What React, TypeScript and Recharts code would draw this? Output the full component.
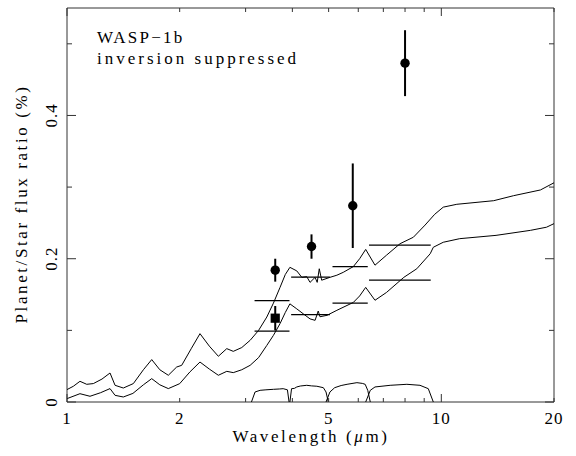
import React from 'react';
import { ComposedChart, Line, Scatter, XAxis, YAxis, ErrorBar, Customized, ReferenceArea } from 'recharts';

// Model spectra [wavelength (um), planet/star flux ratio (%)]
const upperModel: number[][] = [
  [1.0, 0.0173], [1.04, 0.022], [1.083, 0.0289], [1.129, 0.0247], [1.176, 0.0257], [1.24, 0.032],
  [1.303, 0.0405], [1.344, 0.0233], [1.414, 0.0195], [1.504, 0.0257], [1.6, 0.045], [1.684, 0.0592],
  [1.77, 0.045], [1.865, 0.0373], [1.963, 0.0488], [2.025, 0.0512], [2.15, 0.075], [2.266, 0.0954],
  [2.4, 0.078], [2.537, 0.0638], [2.672, 0.0745], [2.781, 0.0707], [2.93, 0.076], [3.085, 0.0861],
  [3.25, 0.1], [3.418, 0.1186], [3.56, 0.138], [3.708, 0.16], [3.83, 0.178], [3.94, 0.188],
  [4.11, 0.183], [4.24, 0.174], [4.37, 0.175], [4.46, 0.167], [4.6, 0.174], [4.66, 0.167],
  [4.72, 0.186], [4.79, 0.17], [5.04, 0.174], [5.26, 0.177], [5.47, 0.181], [5.82, 0.189],
  [6.05, 0.2], [6.28, 0.213], [6.65, 0.191], [7.14, 0.205], [7.76, 0.221], [8.42, 0.23],
  [9.05, 0.247], [9.6, 0.262], [10.12, 0.272], [11.0, 0.276], [13.8, 0.281], [15.6, 0.288],
  [18.4, 0.296], [20, 0.306],
];
const lowerModel: number[][] = [
  [1.0, 0.0047], [1.083, 0.0116], [1.152, 0.008], [1.23, 0.013], [1.303, 0.0187], [1.344, 0.0093],
  [1.414, 0.007], [1.5, 0.012], [1.6, 0.024], [1.684, 0.0326], [1.77, 0.024], [1.865, 0.0187],
  [2.0, 0.0256], [2.13, 0.042], [2.266, 0.0558], [2.4, 0.046], [2.537, 0.0373], [2.672, 0.0428],
  [2.781, 0.041], [2.93, 0.045], [3.085, 0.0512], [3.25, 0.062], [3.418, 0.079], [3.56, 0.093],
  [3.708, 0.1094], [3.83, 0.125], [3.94, 0.137], [4.11, 0.13], [4.28, 0.123], [4.46, 0.116],
  [4.6, 0.114], [4.69, 0.127], [4.74, 0.119], [4.95, 0.121], [5.26, 0.128], [5.82, 0.139],
  [6.05, 0.148], [6.28, 0.16], [6.65, 0.142], [7.14, 0.153], [7.94, 0.174], [8.6, 0.186],
  [9.34, 0.207], [9.52, 0.216], [10.12, 0.223], [11.2, 0.228], [14.0, 0.2326], [17.3, 0.2396],
  [19.1, 0.244], [20, 0.249],
];

// IRAC filter response curves (scaled)
const filter36: number[][] = [[3.11, 0], [3.18, 0.014], [3.28, 0.0163], [3.4, 0.017], [3.56, 0.0177], [3.7, 0.0182], [3.78, 0.0186], [3.88, 0.017], [3.92, 0]];
const filter45: number[][] = [[3.94, 0], [3.98, 0.0186], [4.05, 0.019], [4.11, 0.021], [4.2, 0.0223], [4.37, 0.0233], [4.5, 0.0225], [4.65, 0.022], [4.84, 0.02], [4.92, 0.014], [4.99, 0]];
const filter58: number[][] = [[4.92, 0], [5.04, 0.014], [5.19, 0.02], [5.4, 0.023], [5.6, 0.0247], [5.95, 0.027], [6.15, 0.026], [6.26, 0.0247], [6.36, 0.0163], [6.46, 0]];
const filter80: number[][] = [[6.28, 0], [6.46, 0.0163], [6.65, 0.021], [7.3, 0.0233], [8.09, 0.0247], [8.77, 0.0233], [9.23, 0.0186], [9.52, 0]];

// Band-averaged model fluxes
const bandEdges: number[][] = [[3.17, 3.93], [3.97, 5.04], [5.12, 6.36], [6.41, 9.37]];
const upperBandFlux = [0.1415, 0.1744, 0.189, 0.219];
const lowerBandFlux = [0.099, 0.122, 0.138, 0.17];

// Observed eclipse depths
const circleWave = [3.6, 4.5, 5.8, 8.0];
const circleFlux = [0.184, 0.217, 0.274, 0.473];
const circleErr = [0.016, 0.017, 0.059, 0.046];
const squareWave = [3.6];
const squareFlux = [0.117];
const squareErr = [0.017];

// Axis ticks
const xTicks = [1, 2, 3, 4, 5, 6, 7, 8, 9, 10, 20];
const xTickLabels = [1, 2, 5, 10, 20];
const yTicks = [0, 0.1, 0.2, 0.3, 0.4, 0.5];
const yTickLabels = [0, 0.2, 0.4];

const toXY = (arr: number[][]) => arr.map(([x, y]) => ({ x, y }));
const FONT = 'Liberation Serif';
const FRAME = '#333';

const isMajorX = (v: number) => v === 1 || v === 10;
const isMajorY = (v: number) => yTickLabels.some((t) => Math.abs(t - v) < 1e-9);

const BottomTickMark = (p: any) => {
  const len = isMajorX(p.payload.value) ? 8 : 4;
  return <path d={`M${p.x},${p.y}L${p.x},${Number(p.y) - len}`} stroke={FRAME} strokeWidth={1} />;
};
const TopTickMark = (p: any) => {
  const len = isMajorX(p.payload.value) ? 8 : 4;
  return <path d={`M${p.x},${p.y}L${p.x},${Number(p.y) + len}`} stroke={FRAME} strokeWidth={1} />;
};
const LeftTickMark = (p: any) => {
  const len = isMajorY(p.payload.value) ? 9 : 5;
  return <path d={`M${p.x},${p.y}L${Number(p.x) + len},${p.y}`} stroke={FRAME} strokeWidth={1} />;
};
const RightTickMark = (p: any) => {
  const len = isMajorY(p.payload.value) ? 9 : 5;
  return <path d={`M${p.x},${p.y}L${Number(p.x) - len},${p.y}`} stroke={FRAME} strokeWidth={1} />;
};
const BottomLabel = (p: any) => (
  <text x={p.x} y={Number(p.y) + 21} textAnchor="middle" fontFamily={FONT} fontSize={17} letterSpacing={1} fill="#000">
    {p.payload.value}
  </text>
);
const LeftLabel = (p: any) => {
  const v = p.payload.value;
  const lx = Number(p.x) - 9;
  return (
    <text x={lx} y={p.y} transform={`rotate(-90 ${lx} ${p.y})`} textAnchor="middle" fontFamily={FONT} fontSize={17} letterSpacing={1} fill="#000">
      {v === 0 ? '0' : v.toFixed(1)}
    </text>
  );
};

const Labels = () => (
  <g fontFamily={FONT} fontSize={17} fill="#000">
    <text x={97} y={43} letterSpacing={2.2}>WASP−1b</text>
    <text x={97} y={64} letterSpacing={3.0}>inversion suppressed</text>
    <text x={311} y={442} textAnchor="middle" letterSpacing={2.6}>
      Wavelength (<tspan fontStyle="italic">μ</tspan>m)
    </text>
    <text x={27} y={204} transform="rotate(-90 27 204)" textAnchor="middle" letterSpacing={2.6}>
      Planet/Star flux ratio (%)
    </text>
  </g>
);

const CircleShape = (p: any) => <circle cx={p.cx} cy={p.cy} r={4.7} fill="#000" />;
const SquareShape = (p: any) => <rect x={p.cx - 4.6} y={p.cy - 4.6} width={9.2} height={9.2} fill="#000" />;

export default function App() {
  const circles = circleWave.map((x, i) => ({ x, y: circleFlux[i], err: circleErr[i] }));
  const squares = squareWave.map((x, i) => ({ x, y: squareFlux[i], err: squareErr[i] }));
  const lineProps = {
    dataKey: 'y',
    xAxisId: 'b1',
    yAxisId: 'l1',
    dot: false,
    activeDot: false,
    isAnimationActive: false,
    type: 'linear' as const,
    stroke: '#000',
    strokeWidth: 1,
  };
  const xCommon = {
    dataKey: 'x',
    type: 'number' as const,
    scale: 'log' as const,
    domain: [1, 20],
    allowDataOverflow: true,
    interval: 0 as const,
    tickSize: 0,
    tickMargin: 0,
    axisLine: false,
    tickLine: false,
  };
  const yCommon = {
    dataKey: 'y',
    type: 'number' as const,
    domain: [0, 0.55],
    allowDataOverflow: true,
    interval: 0 as const,
    tickSize: 0,
    tickMargin: 0,
    axisLine: false,
    tickLine: false,
  };
  return (
    <div style={{ position: 'absolute', left: 0, top: 0, width: 576, height: 456, background: '#fff' }}>
      <ComposedChart width={576} height={456} margin={{ top: 7, right: 21, left: 0, bottom: 0 }}>
        <XAxis {...xCommon} xAxisId="b0" ticks={xTicks} height={1} tick={BottomTickMark} />
        <XAxis {...xCommon} xAxisId="b1" ticks={xTickLabels} height={53} tick={BottomLabel} />
        <XAxis {...xCommon} xAxisId="t" orientation="top" ticks={xTicks} height={1} tick={TopTickMark} />
        <YAxis {...yCommon} yAxisId="l0" ticks={yTicks} width={1} tick={LeftTickMark} />
        <YAxis {...yCommon} yAxisId="l1" ticks={yTickLabels} width={66} tick={LeftLabel} />
        <YAxis {...yCommon} yAxisId="r" orientation="right" ticks={yTicks} width={1} tick={RightTickMark} />
        <ReferenceArea xAxisId="b1" yAxisId="l1" x1={1} x2={20} y1={0} y2={0.55} fill="none" stroke={FRAME} strokeWidth={1} ifOverflow="visible" />
        <Line {...lineProps} data={toXY(upperModel)} />
        <Line {...lineProps} data={toXY(lowerModel)} />
        <Line {...lineProps} data={toXY(filter36)} />
        <Line {...lineProps} data={toXY(filter45)} />
        <Line {...lineProps} data={toXY(filter58)} />
        <Line {...lineProps} data={toXY(filter80)} />
        {bandEdges.map((e, i) => (
          <Line key={'u' + i} {...lineProps} strokeWidth={1.3} data={[{ x: e[0], y: upperBandFlux[i] }, { x: e[1], y: upperBandFlux[i] }]} />
        ))}
        {bandEdges.map((e, i) => (
          <Line key={'l' + i} {...lineProps} strokeWidth={1.3} data={[{ x: e[0], y: lowerBandFlux[i] }, { x: e[1], y: lowerBandFlux[i] }]} />
        ))}
        <Scatter xAxisId="b1" yAxisId="l1" data={circles} dataKey="y" shape={CircleShape} isAnimationActive={false}>
          <ErrorBar dataKey="err" direction="y" width={0} stroke="#000" strokeWidth={2} isAnimationActive={false} />
        </Scatter>
        <Scatter xAxisId="b1" yAxisId="l1" data={squares} dataKey="y" shape={SquareShape} isAnimationActive={false}>
          <ErrorBar dataKey="err" direction="y" width={0} stroke="#000" strokeWidth={2} isAnimationActive={false} />
        </Scatter>
        <Customized component={Labels} />
      </ComposedChart>
    </div>
  );
}
